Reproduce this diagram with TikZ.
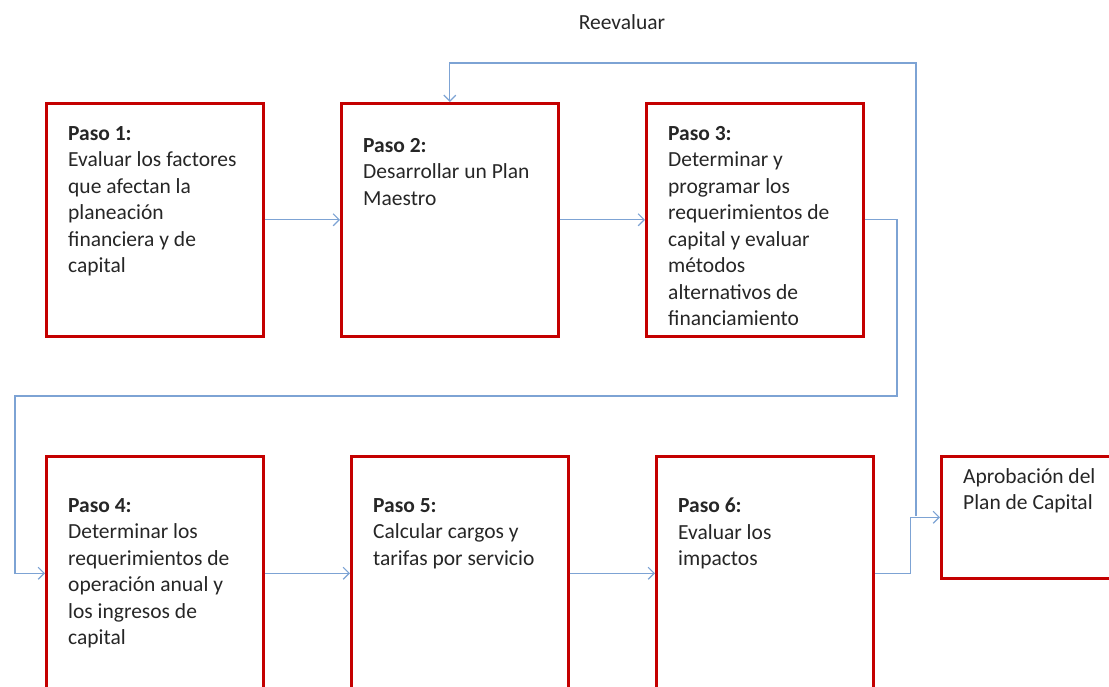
\documentclass[tikz,border=0pt]{standalone}
\usepackage{fontspec}
\setmainfont{Carlito}
\usetikzlibrary{positioning,arrows.meta}
\definecolor{boxred}{RGB}{196,0,0}
\definecolor{linkblue}{RGB}{125,163,212}
\definecolor{ink}{RGB}{38,38,38}

\begin{document}
\begin{tikzpicture}[x=1pt,y=-1pt]
   \tikzstyle{paso}=[draw=boxred, line width=2.6pt, minimum width=217pt, minimum height=233pt, anchor=north west, inner sep=0pt]
   \tikzstyle{txt}=[anchor=north west, align=left, inner sep=0pt, text=ink, font=\fontsize{21.5}{26.5}\selectfont]
   \tikzstyle{link}=[draw=linkblue, line width=1.2pt, -{Straight Barb[length=6pt,width=12pt]}]

\useasboundingbox (0,0) rectangle (1109,687);
\clip (0,0) rectangle (1109,687);

\node[paso] (p1) at (45,102) {};
\node[paso] (p2) at (340,102) {};
\node[paso] (p3) at (645,102) {};
\node[paso, minimum height=234pt] (p4) at (45,455) {};
\node[paso, minimum height=234pt] (p5) at (350,455) {};
\node[paso, minimum height=234pt] (p6) at (655,455) {};
\node[paso, minimum width=200pt, minimum height=122pt] (ap) at (940,455) {};

\node[txt] (t1) at (68,126) {\textbf{Paso 1:}\\Evaluar los factores\\que afectan la\\planeación\\financiera y de\\capital};
\node[txt] (t2) at (363,138) {\textbf{Paso 2:}\\Desarrollar un Plan\\Maestro};
\node[txt] (t3) at (668,126) {\textbf{Paso 3:}\\Determinar y\\programar los\\requerimientos de\\capital y evaluar\\métodos\\alternativos de\\financiamiento};
\node[txt] (t4) at (68,498) {\textbf{Paso 4:}\\Determinar los\\requerimientos de\\operación anual y\\los ingresos de\\capital};
\node[txt] (t5) at (373,498) {\textbf{Paso 5:}\\Calcular cargos y\\tarifas por servicio};
\node[txt] (t6) at (678,498) {\textbf{Paso 6:}\\Evaluar los\\impactos};
\node[txt] (ta) at (963,468) {Aprobación del\\Plan de Capital};
\node[txt, anchor=center] (reeval) at (622,22) {Reevaluar};

\coordinate (turnA) at (897,396);
\coordinate (turnB) at (15,396);
\coordinate (fork) at (916,516);
\coordinate (loop) at (916,63);

\draw[link] (p1) -- (p2);
\draw[link] (p2) -- (p3);
\draw[link] (p3.east) -| (turnA) -- (turnB) |- (p4.west);
\draw[link] (p4) -- (p5);
\draw[link] (p5) -- (p6);
\draw[link] (p6.east) -- ++(36,0) |- (ap.west);
\draw[link] (fork) -- (loop) -| (p2.north);

\end{tikzpicture}
\end{document}
